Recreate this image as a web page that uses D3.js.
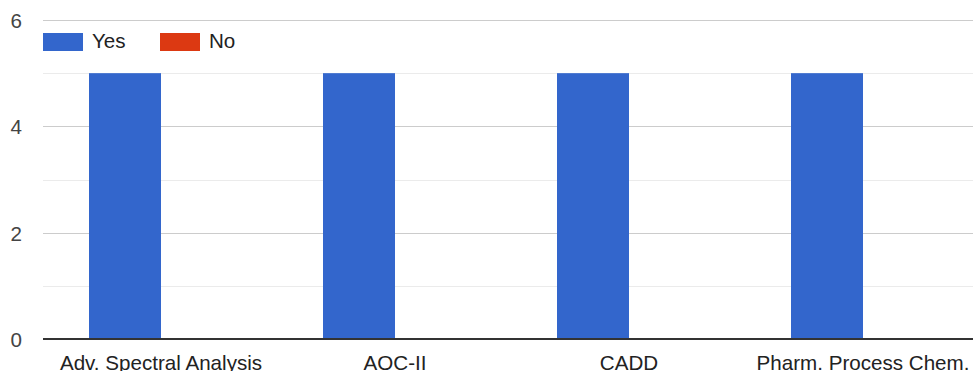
<!DOCTYPE html>
<html>
<head>
<meta charset="utf-8">
<script src="https://cdn.jsdelivr.net/npm/d3@7"></script>
<style>
  body { margin: 0; background: #fff; }
  svg { display: block; font-family: Arial, "Liberation Sans", sans-serif; }
</style>
</head>
<body>
<svg id="chart"></svg>
<script>
// data
const categories = ["Adv. Spectral Analysis", "AOC-II", "CADD", "Pharm. Process Chem."];
const seriesNames = ["Yes", "No"];
const yesValues = [5, 5, 5, 5];
const noValues = [0, 0, 0, 0];
const yTicks = [0, 2, 4, 6];
const yMinorTicks = [1, 3, 5];

const colors = { Yes: "#3366cc", No: "#dc3912" };
const fontSize = 20.6;

const width = 973, height = 371;
const plot = { left: 43, right: 973, top: 20, bottom: 339 };

const svg = d3.select("#chart")
    .attr("width", width)
    .attr("height", height);

const rows = categories.map((c, i) => ({ cat: c, Yes: yesValues[i], No: noValues[i] }));

const x0 = d3.scaleBand()
    .domain(categories)
    .range([44, 980])
    .paddingInner(0)
    .paddingOuter(0);

const x1 = d3.scaleBand()
    .domain(seriesNames)
    .range([x0.bandwidth() / 2 - 72, x0.bandwidth() / 2 + 72]);

const y = d3.scaleLinear()
    .domain([0, 6])
    .range([plot.bottom, plot.top]);

// minor gridlines
svg.append("g")
  .selectAll("line")
  .data(yMinorTicks)
  .join("line")
    .attr("x1", plot.left).attr("x2", plot.right)
    .attr("y1", d => Math.round(y(d)) + 0.5).attr("y2", d => Math.round(y(d)) + 0.5)
    .attr("stroke", "#ebebeb");

// major gridlines
svg.append("g")
  .selectAll("line")
  .data(yTicks.filter(d => d > 0))
  .join("line")
    .attr("x1", plot.left).attr("x2", plot.right)
    .attr("y1", d => Math.round(y(d)) + 0.5).attr("y2", d => Math.round(y(d)) + 0.5)
    .attr("stroke", "#cccccc");

// y labels
const yAxis = d3.axisLeft(y).tickValues(yTicks).tickFormat(d3.format("d")).tickSize(0).tickPadding(0);
svg.append("g")
    .attr("transform", "translate(22,0)")
    .call(yAxis)
    .call(g => g.select(".domain").remove())
    .selectAll("text")
    .attr("font-size", fontSize)
    .attr("font-family", "Arial, 'Liberation Sans', sans-serif")
    .attr("fill", "#444")
    .attr("dy", "0.36em");

// bars
svg.append("g")
  .selectAll("g")
  .data(rows)
  .join("g")
    .attr("transform", d => `translate(${x0(d.cat)},0)`)
  .selectAll("rect")
  .data(d => seriesNames.map(s => ({ key: s, value: d[s] })))
  .join("rect")
    .attr("x", d => x1(d.key))
    .attr("width", x1.bandwidth())
    .attr("y", d => y(d.value))
    .attr("height", d => y(0) - y(d.value))
    .attr("fill", d => colors[d.key]);

// baseline
svg.append("line")
    .attr("x1", plot.left).attr("x2", plot.right)
    .attr("y1", plot.bottom).attr("y2", plot.bottom)
    .attr("stroke", "#333")
    .attr("stroke-width", 2);

// x labels
const xAxis = d3.axisBottom(x0).tickSize(0).tickPadding(0);
svg.append("g")
    .attr("transform", `translate(0,${plot.bottom})`)
    .call(xAxis)
    .call(g => g.select(".domain").remove())
    .selectAll("text")
    .attr("font-size", fontSize)
    .attr("font-family", "Arial, 'Liberation Sans', sans-serif")
    .attr("fill", "#222")
    .attr("y", 31)
    .attr("dy", 0);

// legend
const legend = svg.append("g").attr("transform", "translate(43,33)");
const items = legend.selectAll("g")
  .data(seriesNames)
  .join("g")
    .attr("transform", (d, i) => `translate(${i * 117},0)`);
items.append("rect")
    .attr("width", 40).attr("height", 18)
    .attr("fill", d => colors[d]);
items.append("text")
    .attr("x", 49).attr("y", 15)
    .attr("font-size", fontSize)
    .attr("fill", "#222")
    .text(d => d);
</script>
</body>
</html>
